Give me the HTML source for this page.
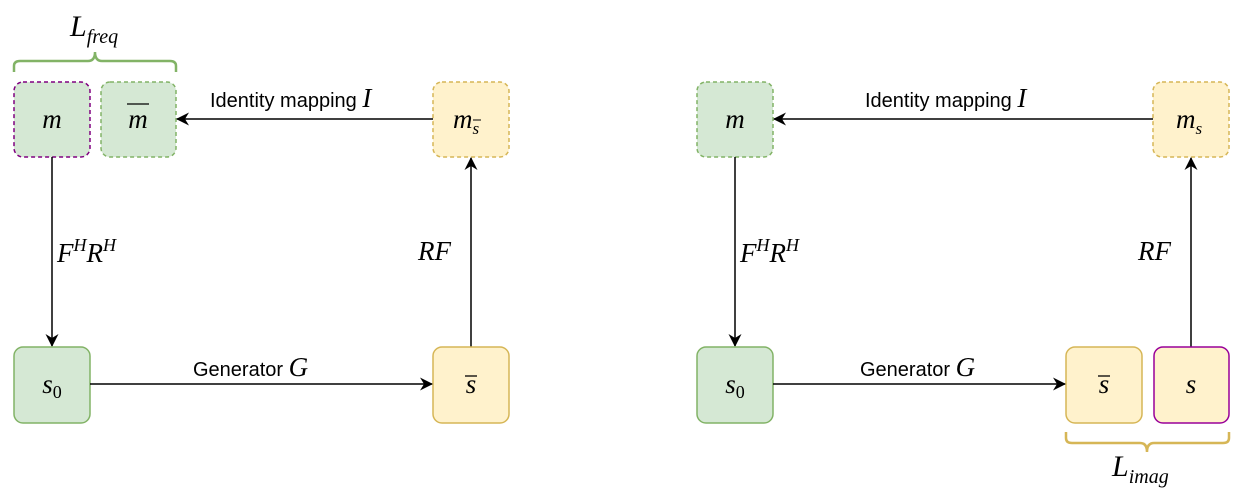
<!DOCTYPE html>
<html><head><meta charset="utf-8"><style>
html,body{margin:0;padding:0;background:#fff;}
svg{display:block;}
.m{font-family:"Liberation Serif",serif;font-style:italic;fill:#000;}
.s{font-family:"Liberation Sans",sans-serif;fill:#000;}
</style></head><body>
<svg width="1246" height="496" viewBox="0 0 1246 496" xmlns="http://www.w3.org/2000/svg">
<defs>
<marker id="a" markerWidth="13" markerHeight="13" refX="12" refY="6.5" orient="auto" markerUnits="userSpaceOnUse">
<path d="M0,0 L13,6.5 L0,13 L4,6.5 Z" fill="#000"/></marker>
</defs>
<!-- LEFT -->
<path d="M14,72 V66 Q14,61 20,61 H88 Q95,61 95,52 Q95,61 102,61 H170 Q176,61 176,66 V72" fill="none" stroke="#82b366" stroke-width="2.5"/>
<text class="m" x="70" y="36" font-size="30">L<tspan font-size="20" dy="7">freq</tspan></text>
<rect x="14" y="82" width="76" height="75" rx="9" fill="#d5e8d4" stroke="#800080" stroke-width="1.5" stroke-dasharray="4,3"/>
<text class="m" x="52" y="128" font-size="27" text-anchor="middle">m</text>
<rect x="101" y="82" width="75" height="75" rx="9" fill="#d5e8d4" stroke="#82b366" stroke-width="1.5" stroke-dasharray="4,3"/>
<text class="m" x="138" y="128" font-size="27" text-anchor="middle">m</text>
<line x1="127" y1="104" x2="149" y2="104" stroke="#000" stroke-width="1.3"/>
<rect x="433" y="82" width="76" height="75" rx="9" fill="#fff2cc" stroke="#d6b656" stroke-width="1.5" stroke-dasharray="4,3"/>
<text class="m" x="466" y="128" font-size="27" text-anchor="middle">m<tspan font-size="17" dy="6">s</tspan></text>
<line x1="473" y1="120" x2="481" y2="120" stroke="#000" stroke-width="1"/>
<line x1="433" y1="119" x2="177" y2="119" stroke="#000" stroke-width="1.5" marker-end="url(#a)"/>
<text class="s" x="210" y="107" font-size="20">Identity mapping <tspan class="m" font-size="27">I</tspan></text>
<line x1="52" y1="157" x2="52" y2="346" stroke="#000" stroke-width="1.5" marker-end="url(#a)"/>
<text class="m" x="57" y="262" font-size="27">F<tspan font-size="18" dy="-11">H</tspan><tspan dy="11">R</tspan><tspan font-size="18" dy="-11">H</tspan></text>
<line x1="471" y1="347" x2="471" y2="158" stroke="#000" stroke-width="1.5" marker-end="url(#a)"/>
<text class="m" x="418" y="260" font-size="27">RF</text>
<rect x="14" y="347" width="76" height="76" rx="9" fill="#d5e8d4" stroke="#82b366" stroke-width="1.5"/>
<text class="m" x="52" y="393" font-size="27" text-anchor="middle">s<tspan font-size="18" dy="5" font-style="normal">0</tspan></text>
<rect x="433" y="347" width="76" height="76" rx="9" fill="#fff2cc" stroke="#d6b656" stroke-width="1.5"/>
<text class="m" x="471" y="393" font-size="27" text-anchor="middle">s</text>
<line x1="465" y1="376" x2="477" y2="376" stroke="#000" stroke-width="1.3"/>
<line x1="90" y1="384" x2="432" y2="384" stroke="#000" stroke-width="1.5" marker-end="url(#a)"/>
<text class="s" x="193" y="376" font-size="20">Generator <tspan class="m" font-size="27">G</tspan></text>
<!-- RIGHT -->
<rect x="697" y="82" width="76" height="75" rx="9" fill="#d5e8d4" stroke="#82b366" stroke-width="1.5" stroke-dasharray="4,3"/>
<text class="m" x="735" y="128" font-size="27" text-anchor="middle">m</text>
<rect x="1153" y="82" width="76" height="75" rx="9" fill="#fff2cc" stroke="#d6b656" stroke-width="1.5" stroke-dasharray="4,3"/>
<text class="m" x="1189" y="128" font-size="27" text-anchor="middle">m<tspan font-size="17" dy="6">s</tspan></text>
<line x1="1153" y1="119" x2="774" y2="119" stroke="#000" stroke-width="1.5" marker-end="url(#a)"/>
<text class="s" x="865" y="107" font-size="20">Identity mapping <tspan class="m" font-size="27">I</tspan></text>
<line x1="735" y1="157" x2="735" y2="346" stroke="#000" stroke-width="1.5" marker-end="url(#a)"/>
<text class="m" x="740" y="262" font-size="27">F<tspan font-size="18" dy="-11">H</tspan><tspan dy="11">R</tspan><tspan font-size="18" dy="-11">H</tspan></text>
<line x1="1191" y1="347" x2="1191" y2="158" stroke="#000" stroke-width="1.5" marker-end="url(#a)"/>
<text class="m" x="1138" y="260" font-size="27">RF</text>
<rect x="697" y="347" width="76" height="76" rx="9" fill="#d5e8d4" stroke="#82b366" stroke-width="1.5"/>
<text class="m" x="735" y="393" font-size="27" text-anchor="middle">s<tspan font-size="18" dy="5" font-style="normal">0</tspan></text>
<rect x="1066" y="347" width="76" height="76" rx="9" fill="#fff2cc" stroke="#d6b656" stroke-width="1.5"/>
<text class="m" x="1104" y="393" font-size="27" text-anchor="middle">s</text>
<line x1="1098" y1="376" x2="1110" y2="376" stroke="#000" stroke-width="1.3"/>
<rect x="1154" y="347" width="75" height="76" rx="9" fill="#fff2cc" stroke="#990099" stroke-width="1.5"/>
<text class="m" x="1191" y="393" font-size="27" text-anchor="middle">s</text>
<line x1="773" y1="384" x2="1065" y2="384" stroke="#000" stroke-width="1.5" marker-end="url(#a)"/>
<text class="s" x="860" y="376" font-size="20">Generator <tspan class="m" font-size="27">G</tspan></text>
<path d="M1066,432 V438 Q1066,443 1072,443 H1140 Q1147,443 1147,452 Q1147,443 1154,443 H1223 Q1229,443 1229,438 V432" fill="none" stroke="#d6b656" stroke-width="2.5"/>
<text class="m" x="1112" y="476" font-size="30">L<tspan font-size="20" dy="7">imag</tspan></text>
</svg>
</body></html>
